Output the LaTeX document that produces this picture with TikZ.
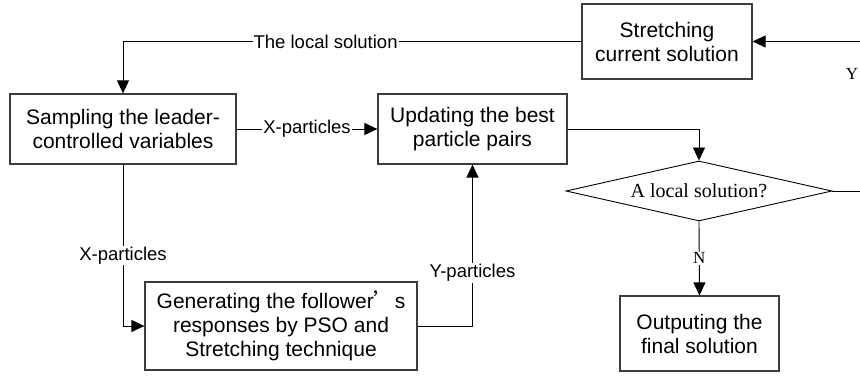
\documentclass[tikz,border=0pt]{standalone}
\usepackage{fontspec}
\setmainfont{Liberation Sans}
\newfontfamily\timesfont{Liberation Serif}
\newfontfamily\cjkfont{Noto Sans CJK SC}
\usetikzlibrary{arrows.meta,shapes.geometric}
\definecolor{BoxLine}{HTML}{3C3C3C}

\begin{document}
\begin{tikzpicture}[x=1pt,y=-1pt,>={Triangle[length=13pt,width=12pt]}]
    \tikzset{
      procbox/.style={draw=BoxLine,line width=1.2pt,fill=white,align=center,inner sep=0pt,
                   font=\fontsize{21}{24}\selectfont},
      decide/.style={diamond,draw=black,line width=0.9pt,inner sep=0pt,aspect=4.43,
                   minimum width=266pt,minimum height=60pt,font=\timesfont\fontsize{20}{22}\selectfont},
      arr/.style={->,line width=0.9pt,draw=black},
      lbl/.style={fill=white,inner sep=1pt,font=\fontsize{18.5}{20}\selectfont},
      yn/.style={fill=white,inner sep=1pt,font=\timesfont\fontsize{17}{18}\selectfont}
    }
    \useasboundingbox (0,0) rectangle (860,377);
    % boxes
    \node[procbox,minimum width=170pt,minimum height=75pt] (strc) at (667,41.5)
          {Stretching\\current solution};
    \node[procbox,minimum width=226pt,minimum height=70pt] (samp) at (123,129)
          {Sampling the leader-\\controlled variables};
    \node[procbox,minimum width=189pt,minimum height=70pt] (upd) at (472.5,129)
          {Updating the best\\particle pairs};
    \node[decide] (chk) at (699,191) {A local solution?};
    \node[procbox,minimum width=272pt,minimum height=88pt] (gen) at (281,326)
          {Generating the follower{\cjkfont ’}s\\responses by PSO and\\Stretching technique};
    \node[procbox,minimum width=159pt,minimum height=75pt] (outp) at (699.5,333.5)
          {Outputing the\\final solution};
    \coordinate (rt) at (880,191);

    % connectors
    \draw[arr] (strc.west) -| node[lbl,pos=0.279] {The local solution} (samp.north);
    \draw[arr] (samp.east) -- node[lbl] {X-particles} (upd.west);
    \draw[arr] (samp.south) |- node[lbl,pos=0.282] {X-particles} (gen.west);
    \draw[arr] (gen.east) -| node[lbl,pos=0.664] {Y-particles} (upd.south);
    \draw[arr] (upd.east) -| (chk.north);
    \draw[arr] (chk.south) -- node[yn] {N} (outp.north);
    \draw[arr] (chk.east) -- (rt) |- (strc.east);
    \node[yn,fill=none] (ylbl) at (852,74) {Y};
\end{tikzpicture}
\end{document}
